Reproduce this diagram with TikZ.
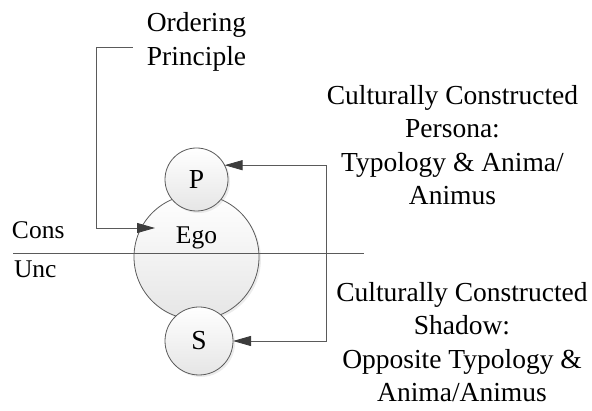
\documentclass[tikz,border=0pt]{standalone}
\usepackage{fontspec}
\setmainfont{Liberation Serif}
\usetikzlibrary{arrows.meta,shadows}
\definecolor{edge}{HTML}{5A5A5A}
\definecolor{tipcol}{HTML}{3C3C3C}
\begin{document}
\begin{tikzpicture}[x=1pt,y=-1pt,
  every node/.style={inner sep=0pt, outer sep=0pt},
  >={Triangle[length=18pt,width=10pt,color=tipcol]},
  bigtext/.style={font=\fontsize{27.5}{33.5}\selectfont, align=center},
  smalltext/.style={font=\fontsize{25.5}{30}\selectfont},
  ball/.style={circle, draw=edge, line width=0.8pt, top color=white,
    bottom color=black!10, font=\fontsize{27.5}{33}\selectfont,
    drop shadow={opacity=0.15, shadow xshift=2pt, shadow yshift=-2pt}},
  conn/.style={draw=edge, line width=0.8pt},
]
\useasboundingbox (0,0) rectangle (592,411);

% ego with persona above and shadow below
\node[ball, minimum size=125pt] (ego) at (196.5,257) {};
\node[ball, minimum size=63pt] (P) at (196.5,179.5) {P};
\node[ball, minimum size=68pt] (S) at (199,341) {S};
\node[smalltext, anchor=base] (egolabel) at (196.5,244) {Ego};

% conscious / unconscious divide
\coordinate (divL) at (13,253);
\coordinate (divR) at (364,253);
\draw[conn] (divL) -- (divR);
\node[smalltext, anchor=base west] (cons) at (12,239) {Cons};
\node[smalltext, anchor=base west] (unc) at (14,278) {Unc};

% labels
\node[bigtext] (OP) at (196.5,42) {Ordering\\Principle};
\node[bigtext] (persona) at (452.5,145) {Culturally Constructed\\Persona:\\Typology \& Anima/\\Animus};
\node[bigtext] (shadow) at (462,342) {Culturally Constructed\\Shadow:\\Opposite Typology \&\\Anima/Animus};

% connectors
\coordinate (egoin) at (155,228);
\draw[conn, ->] ([xshift=-14pt,yshift=-5pt]OP.west) -- ++(-36,0) |- (egoin);
\draw[conn, <->] (P.27) -- ++(102,0) |- (S.east);
\end{tikzpicture}
\end{document}
